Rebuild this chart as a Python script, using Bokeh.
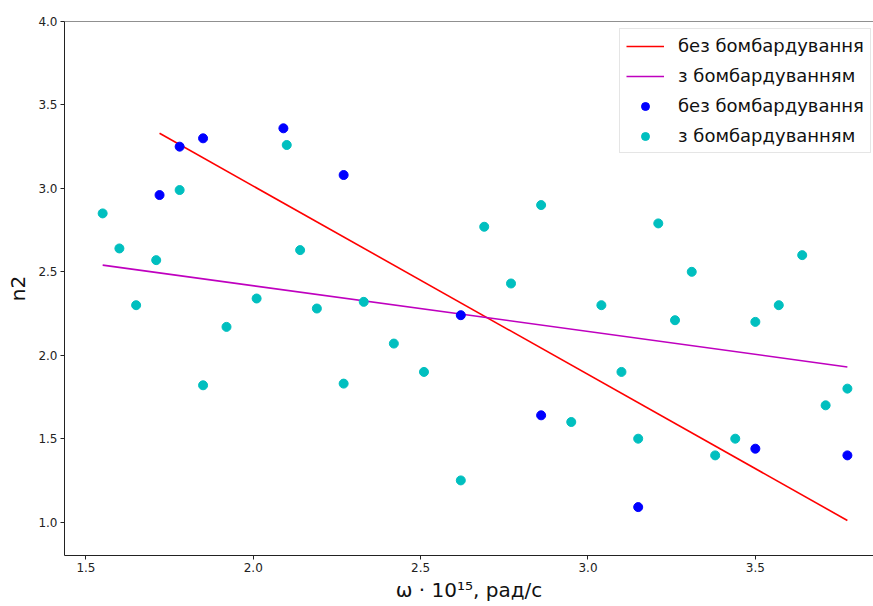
from bokeh.plotting import figure
from bokeh.models import Range1d, FixedTicker, NumeralTickFormatter, Span, Legend, LegendItem
from bokeh.embed import file_html
from bokeh.resources import INLINE

# --- data ---
x_without = [1.72, 1.78, 1.85, 2.09, 2.27, 2.62, 2.86, 3.15, 3.50, 3.775]
y_without = [2.96, 3.25, 3.30, 3.36, 3.08, 2.24, 1.64, 1.09, 1.44, 1.40]

x_with = [1.55, 1.60, 1.65, 1.71, 1.78, 1.85, 1.92, 2.01, 2.10, 2.14, 2.19,
          2.27, 2.33, 2.42, 2.51, 2.62, 2.69, 2.77, 2.86, 2.95, 3.04, 3.10,
          3.15, 3.21, 3.26, 3.31, 3.38, 3.44, 3.50, 3.57, 3.64, 3.71, 3.775]
y_with = [2.85, 2.64, 2.30, 2.57, 2.99, 1.82, 2.17, 2.34, 3.26, 2.63, 2.28,
          1.83, 2.32, 2.07, 1.90, 1.25, 2.77, 2.43, 2.90, 1.60, 2.30, 1.90,
          1.50, 2.79, 2.21, 2.50, 1.40, 1.50, 2.20, 2.30, 2.60, 1.70, 1.80]

fit_without_x = [1.72, 3.775]
fit_without_y = [3.33, 1.01]
fit_with_x = [1.55, 3.775]
fit_with_y = [2.54, 1.93]

x_ticks = [1.5, 2.0, 2.5, 3.0, 3.5]
y_ticks = [1.0, 1.5, 2.0, 2.5, 3.0, 3.5, 4.0]

label_without = "без бомбардування"
label_with = "з бомбардуванням"
x_label = "ω · 10¹⁵, рад/с"
y_label = "n2"

FONT = "DejaVu Sans"

p = figure(width=873, height=606, output_backend="svg", toolbar_location=None,
           x_range=Range1d(1.436, 3.853), y_range=Range1d(0.8, 4.0),
           min_border_left=64, min_border_right=0, min_border_top=21, min_border_bottom=51)
p.outline_line_color = None
p.grid.visible = False
p.background_fill_color = "white"
p.border_fill_color = "white"

for ax in (p.xaxis[0], p.yaxis[0]):
    ax.major_tick_out = 4
    ax.major_tick_in = 0
    ax.minor_tick_out = 0
    ax.minor_tick_in = 0
    ax.major_label_standoff = 3
    ax.axis_line_color = "#222222"
    ax.major_tick_line_color = "#222222"
    ax.major_label_text_font = FONT
    ax.major_label_text_font_size = "12px"
    ax.major_label_text_color = "#222222"
    ax.axis_label_text_font = FONT
    ax.axis_label_text_font_size = "20px"
    ax.axis_label_text_font_style = "normal"
    ax.axis_label_text_color = "#111111"
    ax.formatter = NumeralTickFormatter(format="0.0")

p.xaxis[0].ticker = FixedTicker(ticks=x_ticks)
p.yaxis[0].ticker = FixedTicker(ticks=y_ticks)
p.xaxis[0].axis_label = x_label
p.yaxis[0].axis_label = y_label
p.xaxis[0].axis_label_standoff = 3
p.yaxis[0].axis_label_standoff = 5

top_line = Span(location=4.0, dimension="width", line_color="#222222", line_width=1)
p.add_layout(top_line)

r_fit1 = p.line(fit_without_x, fit_without_y, line_color="#ff0000", line_width=1.6)
r_fit2 = p.line(fit_with_x, fit_with_y, line_color="#bf00bf", line_width=1.6)
r_pts1 = p.scatter(x_without, y_without, size=9, fill_color="#0000ff", line_color="#0000ff")
r_pts2 = p.scatter(x_with, y_with, size=9, fill_color="#00bfbf", line_color="#00bfbf")

legend = Legend(items=[
    LegendItem(label=label_without, renderers=[r_fit1]),
    LegendItem(label=label_with, renderers=[r_fit2]),
    LegendItem(label=label_without, renderers=[r_pts1]),
    LegendItem(label=label_with, renderers=[r_pts2]),
], location=(555, 402))
legend.margin = 0
legend.padding = 6
legend.spacing = 9
legend.glyph_width = 38
legend.glyph_height = 20
legend.label_height = 20
legend.label_standoff = 14
legend.label_text_font = FONT
legend.label_text_font_size = "18px"
legend.label_text_color = "#111111"
legend.border_line_color = "#cccccc"
legend.border_line_width = 1
legend.background_fill_color = "white"
legend.background_fill_alpha = 0.8
p.add_layout(legend)

open("out.html", "w").write(file_html(p, INLINE))
